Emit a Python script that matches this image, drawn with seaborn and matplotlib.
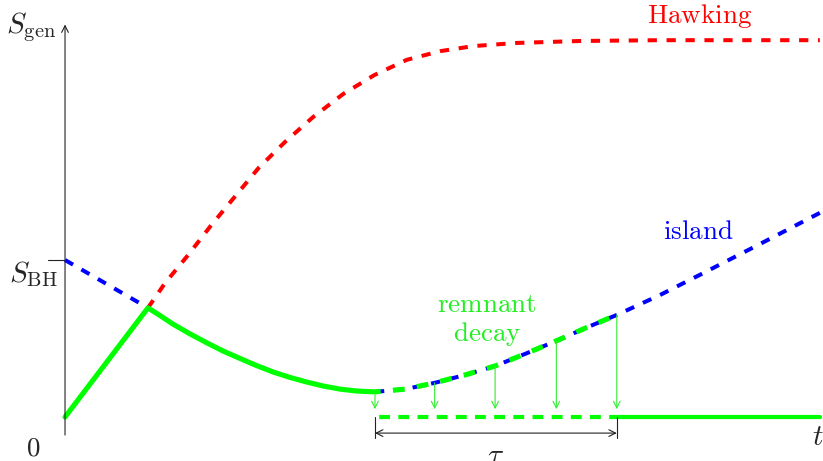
import matplotlib.pyplot as plt
import seaborn as sns

# Page-curve sketch with a remnant decaying over tau
s_bh = 4.0
t_page = 1.07

# Hawking entropy (red dashed)
hawking_t = [1.07, 1.29, 1.59, 1.88, 2.19, 2.50, 2.84, 3.20, 3.59, 3.99, 4.41, 4.84,
             5.27, 5.83, 6.65, 7.68, 9.74]
hawking_s = [2.78, 3.41, 4.13, 4.87, 5.61, 6.35, 7.01, 7.64, 8.23, 8.71, 9.10, 9.32,
             9.45, 9.53, 9.58, 9.60, 9.60]

# island saddle before the Page time (blue dashed)
early_island_t = [0.0, 1.07]
early_island_s = [4.0, 2.78]

# generalized entropy actually followed (green solid)
page_t = [0.0, 1.07, 1.23, 1.39, 1.61, 1.83, 2.04, 2.26, 2.46, 2.68, 2.90, 3.12,
          3.33, 3.55, 3.77, 4.0]
page_s = [0.0, 2.78, 2.58, 2.37, 2.12, 1.89, 1.68, 1.49, 1.32, 1.15, 1.01, 0.89,
          0.79, 0.71, 0.66, 0.64]

# island saddle after the remnant forms (blue dashed)
island_t = [4.0, 4.39, 4.77, 5.16, 5.55, 5.94, 6.34, 6.72, 7.12, 7.68, 8.19, 8.97, 9.74]
island_s = [0.64, 0.71, 0.87, 1.07, 1.30, 1.61, 1.94, 2.27, 2.60, 3.11, 3.62, 4.41, 5.20]

# remnant decay window
tau_start = 4.0
tau_end = 7.12
arrow_t = [4.0, 4.77, 5.55, 6.34, 7.12]
arrow_top = [0.56, 0.87, 1.30, 1.94, 2.60]
arrow_tip = 0.2
t_end = 9.74

sns.set_theme(style="white")
plt.rcParams["mathtext.fontset"] = "cm"

fig = plt.figure(figsize=(8.23, 4.61), dpi=100)
ax = fig.add_axes([0, 0, 1, 1])
ax.set_xlim(-0.839, 9.781)
ax.set_ylim(-1.121, 10.624)
ax.axis("off")

dash = (0, (2.3, 2.4))
axis_kw = dict(arrowstyle="->", lw=0.8, color="#222222", shrinkA=0, shrinkB=0)

# axes with arrows
ax.annotate("", xy=(9.81, 0), xytext=(-0.22, 0), arrowprops=axis_kw)
ax.annotate("", xy=(0, 10.0), xytext=(0, -0.46), arrowprops=axis_kw)
ax.plot([-0.22, 0], [s_bh, s_bh], color="#222222", lw=0.8)

# curves
sns.lineplot(x=hawking_t, y=hawking_s, ax=ax, color="red", lw=2.9, linestyle=dash)
sns.lineplot(x=early_island_t, y=early_island_s, ax=ax, color="blue", lw=2.9, linestyle=dash)
sns.lineplot(x=island_t, y=island_s, ax=ax, color="blue", lw=2.9, linestyle=dash)
sns.lineplot(x=page_t, y=page_s, ax=ax, color="#00ff00", lw=3.7)

# green follows island dashed during decay
decay_t = [t for t in island_t if t <= tau_end]
decay_s = island_s[:len(decay_t)]
sns.lineplot(x=decay_t, y=decay_s, ax=ax, color="#00ff00", lw=3.7, linestyle=(1.2, (2.3, 2.4)))

# green along the axis: dashed during decay, solid after
sns.lineplot(x=[tau_start, tau_end], y=[0, 0], ax=ax, color="#00ff00", lw=3.0,
             linestyle=(-1.0, (2.6, 2.0)))
sns.lineplot(x=[tau_end, t_end], y=[0, 0], ax=ax, color="#00ff00", lw=3.0)

# decay arrows
for t, top in zip(arrow_t, arrow_top):
    ax.annotate("", xy=(t, arrow_tip), xytext=(t, top),
                arrowprops=dict(arrowstyle="->", lw=0.8, color="#33ee33",
                                shrinkA=0, shrinkB=0, mutation_scale=12))

# tau bracket
ax.plot([tau_start, tau_start], [0, -0.53], color="#222222", lw=0.8)
ax.plot([tau_end, tau_end], [0, -0.53], color="#222222", lw=0.8)
ax.annotate("", xy=(tau_end, -0.41), xytext=(tau_start, -0.41),
            arrowprops=dict(arrowstyle="<->", lw=0.8, color="#222222", shrinkA=0, shrinkB=0))

fs_math = 21
fs = 19.5
ax.text(-0.44, 9.93, r"$S_{\rm gen}$", fontsize=fs_math, ha="center", va="center")
ax.text(-0.41, 3.64, r"$S_{\rm BH}$", fontsize=fs_math, ha="center", va="center")
ax.text(-0.41, -0.80, r"$0$", fontsize=fs, ha="center", va="center")
ax.text(9.72, -0.52, r"$t$", fontsize=fs_math, ha="center", va="center")
ax.text((tau_start + tau_end) / 2, -1.0, r"$\tau$", fontsize=fs_math, ha="center", va="center")
ax.text(8.19, 10.22, r"$\mathrm{Hawking}$", fontsize=fs, color="red", ha="center", va="center")
ax.text(8.17, 4.72, r"$\mathrm{island}$", fontsize=fs, color="blue", ha="center", va="center")
ax.text(5.45, 2.48, "$\\mathrm{remnant}$\n$\\mathrm{decay}$", fontsize=fs, color="#22ee22",
        ha="center", va="center", linespacing=1.1)

fig.savefig("out.png", dpi=100)
